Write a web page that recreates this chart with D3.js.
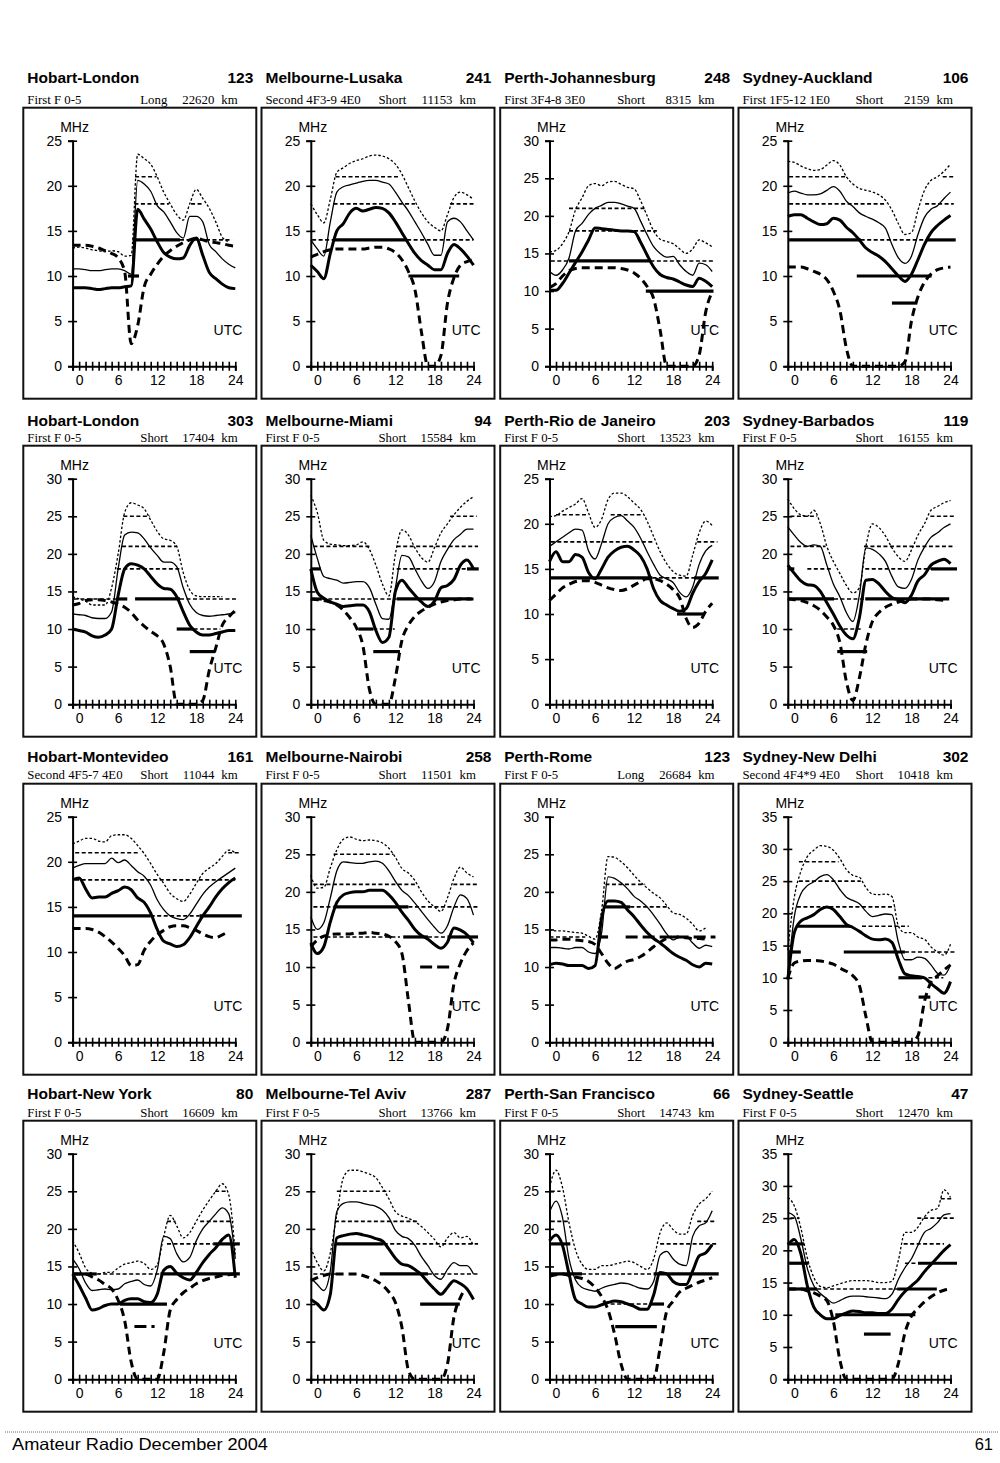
<!DOCTYPE html>
<html>
<head>
<meta charset="utf-8">
<script src="https://cdn.jsdelivr.net/npm/d3@7"></script>
<style>
  body { margin: 0; background: #fff; }
  svg { display: block; }
  .title { font: bold 15.5px "Liberation Sans", Arial, sans-serif; fill: #000; }
  .sub { font: 12.8px "Liberation Serif", "Times New Roman", serif; fill: #000; }
  .ax text, .lbl { font: 14px "Liberation Sans", Arial, sans-serif; fill: #000; }
  .ax path { stroke: #000; stroke-width: 2; }
  .ax line { stroke: #000; stroke-width: 1.6; }
  .foot { font: 16.5px "Liberation Sans", Arial, sans-serif; fill: #000; }
</style>
</head>
<body>
<svg id="page"></svg>
<script>
// ---- data ----
var hours = [-1, 0, 1, 2, 3, 4, 5, 6, 7, 8, 9, 10, 11, 12, 13, 14, 15, 16, 17, 18, 19, 20, 21, 22, 23, 24];
var hourLabels = [0, 6, 12, 18, 24];

var routes = [
  "Hobart-London", "Melbourne-Lusaka", "Perth-Johannesburg", "Sydney-Auckland",
  "Hobart-London", "Melbourne-Miami", "Perth-Rio de Janeiro", "Sydney-Barbados",
  "Hobart-Montevideo", "Melbourne-Nairobi", "Perth-Rome", "Sydney-New Delhi",
  "Hobart-New York", "Melbourne-Tel Aviv", "Perth-San Francisco", "Sydney-Seattle"
];
var routeNumbers = [123, 241, 248, 106, 303, 94, 203, 119, 161, 258, 123, 302, 80, 287, 66, 47];
var modes = [
  "First F 0-5", "Second 4F3-9 4E0", "First 3F4-8 3E0", "First 1F5-12 1E0",
  "First F 0-5", "First F 0-5", "First F 0-5", "First F 0-5",
  "Second 4F5-7 4E0", "First F 0-5", "First F 0-5", "Second 4F4*9 4E0",
  "First F 0-5", "First F 0-5", "First F 0-5", "First F 0-5"
];
var paths = ["Long", "Short", "Short", "Short", "Short", "Short", "Short", "Short",
             "Short", "Short", "Long", "Short", "Short", "Short", "Short", "Short"];
var distances = [22620, 11153, 8315, 2159, 17404, 15584, 13523, 16155,
                 11044, 11501, 26684, 10418, 16609, 13766, 14743, 12470];
var yMaxes = [25, 25, 30, 25, 30, 30, 25, 30, 25, 30, 30, 35, 30, 30, 30, 35];
var ticks25 = [0, 5, 10, 15, 20, 25];
var ticks30 = [0, 5, 10, 15, 20, 25, 30];
var ticks35 = [0, 5, 10, 15, 20, 25, 30, 35];

// dotted upper curve, MHz at each hour
var upperMHz = [
  [13.1,13.2,13.1,12.9,12.8,12.7,12.8,12.7,12.2,12.3,23.5,23,22.4,21,19.3,18,16.8,16.2,18,19.6,18.6,17.5,16,14.3,13.8,null],
  [18,16.8,15.9,18.5,21.5,22,22.5,22.8,23,23.3,23.4,23.3,23,22.4,21.3,19.8,18.3,17,16,15.4,15,16.8,18.7,19.3,19,18.5],
  [15.2,15.4,16.3,17.9,20.8,22.4,24,24.3,24,24.5,24.6,24.2,23.8,23.6,22,20,18,16.9,16.6,16.3,15.6,15,15.6,16.8,16.4,15.9],
  [22.7,22.6,22.2,21.9,21.7,21.8,22.3,22.8,22.3,21,20.2,19.7,19.5,19.3,19,18.4,17.3,15.8,14.6,14.8,17.3,19.5,20.6,21,21.6,22.4],
  [14.3,14,13.7,13.2,13.2,13.2,15.5,20,25.5,26.8,26.5,26,24.5,23,22,21.8,21,17.5,15.2,14.4,14.3,14.3,14.3,14.3,null,null],
  [27.8,25.5,21.8,21.3,21.2,21.1,21.1,21.2,21.6,20.6,18.5,16,14.4,20,23.2,22.5,20.8,19.5,18.9,20.8,22.8,24,25.2,26.2,27,27.6],
  [20.8,20.9,21.4,21.8,22.2,22.8,21.2,19.6,20.5,22.7,23.4,23.4,23,22.3,21.6,20.3,18.6,16.9,15.6,14.7,14.3,14.2,16.5,19,20.3,19.8],
  [27.3,26,25.2,25,25.8,24,21,19,17.4,15.8,14.8,15.5,21,24,23.5,22.4,20.8,19.6,19,20.5,22.5,24,25.8,26.3,26.8,27.1],
  [22,22.3,22.6,22.6,22.3,22.2,22.9,23,23,22.6,21.8,20.9,19.8,18.6,17.6,16.5,15.9,15.6,16.4,17.6,18.7,19.3,19.8,20.6,21.3,21],
  [22.2,20.5,20.6,23.2,25.6,27,27.3,27,26.8,26.9,26.8,26.5,25.8,24.6,23.1,22.5,21.5,20,18.8,18,17.4,19.2,21.8,23.3,22.5,22],
  [15,14.8,14.8,14.7,14.6,14.5,14.1,13.7,17.5,24.7,24.6,24,23.2,22.2,21.3,20.5,19.8,19.2,18.2,17.2,17,16.5,15.7,14.8,15.2,null],
  [14.3,22.5,26.5,28.8,29.8,30.5,30.4,29.8,28.5,26.8,25.9,25.6,24,23,22.9,23,22.6,18,17,17,16.3,16,14.8,14,13.5,15.2],
  [18.4,16.8,14.8,14.1,14,14.2,14.2,14.8,15.3,15.5,15.7,15.4,14.6,15.2,19,21.8,20.4,18.8,19.5,21,22.5,23.8,25,26,24.5,16.6],
  [17.5,15.5,14.4,16.8,21.9,26.8,27.8,27.8,27.6,27.3,26.8,25.5,24,22.3,21.7,21.4,21,20.3,19.5,18.6,17.6,18.8,19.5,18.8,19,17.7],
  [25.5,27.8,25.5,20.8,17.2,15.3,14.6,14.6,15.1,15.1,15.3,15.5,15.7,15.5,15,14.6,16,19.5,20.8,19.9,19.3,19.3,21.8,23.3,24,25],
  [28.2,26.9,23.5,18.8,15.8,14.4,14.2,14.5,14.8,15.1,15.3,15.3,15.3,15.2,15,15,15.2,18.5,22.8,22.8,23.6,25.2,26.2,26.5,29.4,28.2]
];

// thin solid curve
var thinMHz = [
  [10.8,10.8,10.7,10.6,10.6,10.7,10.8,10.8,10.6,10.2,20.6,20.2,19.4,17.8,17.1,16,14.8,14.2,16.6,16.6,16,13.5,12.7,11.9,11.3,10.9],
  [14,13,12.2,16,19.3,19.9,20.1,20.3,20.5,20.6,20.6,20.4,20.2,19.3,18.2,17.2,16,14.8,13.5,12.3,12.3,16,16.4,16,15,14],
  [12.6,12.1,12.8,14.4,18,19,20.2,21,21.4,21.8,21.8,21.6,21.3,21,19.3,17.5,15.9,15,14.5,14.6,13.5,12.6,12.1,13.7,13.5,12.6],
  [19.2,19.4,19.2,19,19,19.1,19.5,19.9,19.4,18.3,17.7,17,16.6,16.3,15.9,15.3,13.5,12,11.4,12.2,14.6,16.5,17.4,17.8,18.6,19.3],
  [12,11.9,11.8,11.5,11.4,11.4,12.3,18,22.5,22.9,22.8,22,20.8,19.8,18.9,18.9,18.3,15.5,13.3,12.2,11.8,11.7,11.8,11.9,12,12.2],
  [22.5,19.4,17,16.7,16.5,16.1,16.2,16.3,16.3,15.5,13.3,11.4,11.3,15.5,19.8,19.6,18,16.4,15.4,16.3,19,20.6,21.9,22.6,23.3,23.3],
  [17.5,18,18.5,19,19.4,19.3,17,16.1,17.8,20,20.7,20.9,20.3,19.6,18.4,16.9,15.5,14.3,13.9,13.5,12.4,11.9,13,15.5,17,17.6],
  [23.6,22.5,21.5,21,21.2,21,18.5,16,14.3,12.2,11,14.5,20.8,20.6,20,19,17,15.6,15.4,16.6,19.2,20.9,22.2,22.8,23.5,24],
  [19.3,19.6,19.8,19.8,19.8,19.8,20.4,19.9,20.2,19.6,18.9,18.4,17.4,15.8,14.7,14,13.7,13.6,14.2,15.3,16.4,17.2,17.8,18.3,18.8,19.3],
  [16.7,15,15.9,19.2,22.8,24,23.9,23.8,23.8,24,24.1,23.8,22.8,21.4,20.2,19.5,18.5,17.4,16.3,15.3,14.5,15.5,18,19.6,19.1,16.9],
  [12.6,12.6,12.5,12.4,12.6,12.6,12,11.8,14.5,22,21.8,21.2,20.4,19.4,18.8,18,16.9,15.7,14.4,13.6,14,14,13.2,12.5,12.9,12.7],
  [10.2,19.5,23,24.3,24.9,25.7,26,25.2,23.7,22.5,22,21.5,20.3,19.5,19.7,19.9,19.8,15.5,12.8,12.8,13.2,13,12,10.7,10.4,12],
  [16,14.7,12.8,11.8,11.9,12,11.9,12,12.7,13,13.2,12.6,12.4,14.5,19,18.7,16.7,15.6,16.2,18.4,20,21,22,22.8,22,16],
  [13.5,12.6,11.8,14.4,22.3,23.4,23.6,23.6,23.4,23.2,23,22.5,21.5,19.8,19,18.7,17.8,16.3,15.1,13.8,13.3,14.6,15.5,15.1,15.1,14],
  [22.2,23.7,21.5,16,13.2,12.2,11.9,11.7,12.1,12.4,12.6,12.8,12.7,12.4,12.1,12,13,16.5,17,16,15.3,15.1,19,20.4,20.8,22.4],
  [25.9,25.3,21.8,17.2,14.5,13.3,12.5,11.8,12.2,12.7,12.9,12.9,12.8,12.7,12.6,12.5,13.2,15.5,17.3,18.7,20.8,22.8,23.4,24.3,25.5,25.7]
];

// thick solid curve
var thickMHz = [
  [8.7,8.7,8.7,8.6,8.5,8.6,8.7,8.7,8.8,8.9,17.4,16.3,15.2,13.8,12.6,12.1,11.9,12,13.4,14.2,12.3,10.4,9.7,9.1,8.7,8.6],
  [11.2,10.5,9.7,12.5,15,15.8,17,17.5,17.2,17.4,17.6,17.5,17,16,14.8,13.6,12.5,11.7,11.2,10.7,10.7,12.5,13.5,13,12.2,11.2],
  [10.1,10.1,11,12.4,13.8,15.2,16.8,18.4,18.3,18.2,18.1,18,18,17.9,16.5,14.8,13.2,12.2,11.8,11.6,11.2,10.8,10.6,11.7,11.3,10.6],
  [16.6,16.8,16.8,16.4,16,15.7,15.8,16.4,16.2,15.4,14.8,14,13.1,12.6,12.2,11.6,10.8,10,9.4,10.2,11.8,13.5,14.8,15.6,16.2,16.7],
  [10,9.8,9.6,9.1,8.9,9.2,10,14.5,18,18.7,18.5,18,17,16,15.4,15.3,14.3,12.3,10.5,9.6,9.2,9.2,9.4,9.6,9.8,9.8],
  [18,14.9,14.1,13.6,13.3,13,13.1,13.2,13.2,12.3,9.8,8.2,8.9,15,16.5,15.5,14.5,13.6,13,13.7,15.5,15.8,16.6,18.5,19.2,18],
  [15.8,16.9,15.8,15.8,16.6,16.3,14.6,13.9,15,16.3,17,17.4,17.5,17.1,16.4,15,12.8,11.5,11,10.6,10.3,10.6,12.3,13.6,14.5,16],
  [18.5,17.4,16.4,15.9,15.8,15,13.5,12,10.4,9.2,8.7,11.5,16.5,16.6,16,15,14.2,13.9,13.5,14.5,16.4,17.2,18.5,19,19.3,18.7],
  [18,18.2,17,16,16.1,16.1,16.5,16.8,17.2,16.9,16,15.5,14.3,12.5,11.2,10.9,10.6,10.8,11.6,12.8,14,15,16.1,17,17.7,18.2],
  [13.2,11.8,12.7,16,18.6,19.6,19.9,20,20,20.2,20.2,20.2,19.6,18.6,17.3,16.2,15,14.2,13.7,13,12.5,13.3,15.2,14.9,14.3,13.2],
  [10.3,10.5,10.4,10.2,10.2,10.2,9.8,10.2,16.5,18.8,18.8,18.6,17.6,16.7,15.6,14.6,13.8,13.2,12.5,11.8,11.3,10.9,10.3,10,10.5,10.4],
  [9.7,17,18.8,19.3,19.8,20.6,21,20.6,19.5,18.3,17.8,17.2,16.5,16,15.9,16,15.5,12.8,10.6,10.3,10.2,10,9.1,8.3,7.6,9.4],
  [14,12.5,10.8,9.2,9.4,9.8,10,10,10.5,10.7,10.7,10.3,10.2,11.3,14.5,15,14.1,13.5,13.2,14.2,15.5,16.6,17.5,18.6,19.2,13.5],
  [10.6,10,9.2,11.3,18.8,19.1,19.3,19.4,19.2,19,18.7,18.4,17.3,16.1,15.3,15.1,14.6,13.9,12.9,12,11.3,12.2,13.1,12.7,12,10.6],
  [18.4,19.2,17.8,14,10.6,10,9.6,9.6,9.9,10.2,10.4,10.3,10,9.7,9.3,9.3,11.2,14.2,14,13,12.6,12.6,14.4,16.4,16.8,17.9],
  [20.9,21.7,19.5,14.5,11.2,10,9.4,9.4,9.9,10.3,10.6,10.5,10.3,10.3,10.2,10.2,10.9,12.4,13.6,14.5,15.4,16.7,17.8,18.9,20,20.9]
];

// thick dashed lower curve
var lufMHz = [
  [13.4,13.4,13.4,13.3,13.1,12.8,12.5,12,10.5,2.5,4.5,8.8,10.2,11.3,12.2,12.8,13.3,13.7,14,14.2,14,13.8,13.7,13.6,13.4,13.3],
  [12.1,12.4,12.7,12.9,13,13,13,13,13,13.1,13.2,13.2,13,12.6,11.8,10.5,8.5,3.8,0,0,1.2,7,9.8,11.2,11.6,11.8],
  [10.5,11,12,12.7,13,13.1,13.1,13.1,13.1,13.1,13.1,13,12.8,12.4,11.7,10.6,9,4.8,0,0,0,0,0,1.5,7.2,9.9],
  [11,11,11,10.8,10.5,10.2,9.6,8.3,6.2,2,0,0,0,0,0,0,0,0,0.5,5,7.7,9.3,10.2,10.7,10.9,11],
  [13.2,13.4,13.8,13.9,13.9,13.8,13.6,13.3,12.9,12.2,11.2,10.4,9.7,9.1,8,5,0,0,0,0,0.5,4.5,7.5,10.5,11.6,12.5],
  [14,13.9,13.8,13.6,13.2,12.5,11.5,10.2,7.8,2,0,0,0,3.5,8.5,10.5,11.7,12.4,12.9,13.3,13.6,13.8,13.9,14,14,14],
  [11.5,12.2,12.9,13.3,13.6,13.7,13.7,13.5,13.2,12.9,12.7,12.6,12.8,13.2,13.6,13.9,13.9,13.7,13.3,12.7,11.8,9.5,8.5,9,10.3,11.2],
  [14,13.9,13.8,13.5,13.1,12.5,11.6,10.5,8.2,3,0.5,3.5,8,11,12.2,12.9,13.3,13.6,13.8,14,14,14,14,13.9,13.8,null],
  [12.6,12.6,12.6,12.5,12.2,11.7,11.1,10.4,9.6,8.5,8.6,10.2,11.2,11.9,12.4,12.8,12.9,12.9,12.7,12.4,12,11.7,11.6,11.9,12.3,null],
  [12.7,13.6,14.1,14.3,14.4,14.4,14.4,14.5,14.5,14.6,14.5,14.4,14.1,13.4,11.8,5.5,0,0,0,0,0,1.8,7.8,10.5,12.2,13.2],
  [13.6,13.6,13.7,13.7,13.6,13.5,13.4,13,11.8,10.5,9.8,10.3,10.8,11,11.4,12,12.7,13.3,13.8,14,14,13.9,13.8,13.8,13.7,null],
  [9.9,12.3,12.6,12.7,12.7,12.6,12.4,12.1,11.5,11,10.3,8.8,4,0,0,0,0,0,0,0,1,6.3,9.3,10.3,11.2,12],
  [14,14,14,13.6,13.2,12.6,12,10.5,7.8,2.3,0,0,0,0,3.5,9.2,10.6,11.5,12.1,12.7,13.1,13.4,13.6,13.8,13.9,14],
  [13.1,13.5,13.8,14,14,14,14,14,13.8,13.5,13.1,12.5,11.6,10.2,6.9,1.2,0,0,0,0,0,2,8.3,10.9,12.2,null],
  [13.7,13.9,14,13.8,13.6,13.4,13,12.2,11,9.2,6,2,0,0,0,0,0,4.2,9,10.4,11.6,12.1,12.5,12.9,13.2,13.5],
  [14,14,14,13.7,13.4,12.9,12.2,9,3,0,0,0,0,0,0,0,0,2.5,7.2,9.8,11,12,12.8,13.4,13.8,14]
];

// band lines: [MHz, from hour, to hour, grade]
var bandSegments = [
  [[21,8.6,11.9,"weak"],[18,8.5,13.8,"weak"],[18,17.2,19.2,"weak"],[14,8.2,15.5,"strong"],[14,15.5,23.5,"weak"],[10,7.5,9.2,"strong"]],
  [[21,2.8,12.5,"weak"],[18,2.5,15,"weak"],[18,20.4,24,"weak"],[14,-0.8,2.5,"weak"],[14,2.5,13.8,"strong"],[14,13.8,24,"weak"],[10,14,21.8,"strong"]],
  [[21,2,13.8,"weak"],[18,2,15.5,"weak"],[14,-0.8,2,"weak"],[14,2,14.5,"strong"],[14,14.5,24.3,"weak"],[10,13.8,24.2,"strong"]],
  [[21,-0.8,7.8,"weak"],[21,22.8,24.5,"weak"],[18,-0.8,14.2,"weak"],[18,20.1,24.5,"weak"],[14,-0.8,10.2,"strong"],[14,10.2,20.3,"weak"],[14,20.3,24.8,"strong"],[10,9.6,21.1,"strong"],[7,15,18.9,"strong"]],
  [[25,6.8,10.9,"weak"],[21,6.6,15,"weak"],[18,5.8,15.5,"weak"],[14,-0.8,5.8,"weak"],[14,5.8,7.4,"strong"],[14,8.6,15.5,"strong"],[14,15.5,24.5,"weak"],[10,15,17.6,"strong"],[10,17.6,21.7,"weak"],[7,17,20.9,"strong"]],
  [[25,20.4,24.5,"weak"],[21,-0.6,8.1,"weak"],[21,12.2,24.7,"weak"],[18,-1,0.5,"strong"],[18,12.2,23,"weak"],[18,23,24.8,"strong"],[14,-1,0.7,"strong"],[14,0.7,12.2,"weak"],[14,12.2,23.7,"strong"],[10,6.3,8.6,"strong"],[10,8.6,11.9,"weak"],[7,8.6,12.7,"strong"]],
  [[21,0,5,"weak"],[21,8.4,13,"weak"],[18,-0.8,15,"weak"],[18,21.7,24.8,"weak"],[14,-1,14.8,"strong"],[14,14.8,21.2,"weak"],[14,21.2,25,"strong"],[10,18.6,22.9,"strong"]],
  [[25,-0.6,3.5,"weak"],[25,20.9,24.7,"weak"],[21,-0.6,4.8,"weak"],[21,10.7,24.7,"weak"],[18,-1,0,"strong"],[18,2,6,"weak"],[18,10.9,21,"weak"],[18,21,25,"strong"],[14,-1,6.1,"strong"],[14,6.1,10.9,"weak"],[14,10.9,23.8,"strong"],[10,6.6,10.2,"weak"],[7,6.6,11.2,"strong"]],
  [[21,-0.6,9.1,"weak"],[21,22.9,24.7,"weak"],[18,-0.6,24.3,"weak"],[14,-1,11,"strong"],[14,11,18.5,"weak"],[14,18.5,25,"strong"]],
  [[25,2.5,11.7,"weak"],[21,-0.6,15.3,"weak"],[21,20.9,24.7,"weak"],[18,-0.6,2.5,"weak"],[18,2.5,14,"strong"],[18,14,24.7,"weak"],[14,-0.6,12.7,"weak"],[14,13.2,17,"strong"],[14,17,20,"weak"],[14,20,24.7,"strong"],[10,15.8,20.9,"fair"]],
  [[21,7.6,13.7,"weak"],[18,7.3,11.4,"strong"],[18,11.4,17.1,"weak"],[14,-1,4.5,"weak"],[14,6.5,8,"strong"],[14,10.7,24.5,"fair"]],
  [[28,0.7,6.8,"weak"],[25,0.7,10.2,"weak"],[21,0.4,15.5,"weak"],[18,0.4,8.6,"strong"],[18,10.4,17.6,"weak"],[14,-0.8,1,"strong"],[14,7.6,17,"strong"],[14,17,24.7,"weak"],[10,16,19.6,"strong"],[10,19.6,22.9,"weak"],[7,19.1,20.9,"strong"]],
  [[25,20.9,22.7,"weak"],[21,13.5,14.8,"weak"],[21,18.6,23.7,"weak"],[18,13.5,20.6,"weak"],[18,20.6,24.7,"strong"],[14,-0.8,2.7,"strong"],[14,2.7,12.5,"weak"],[14,12.5,24.7,"strong"],[10,6.3,13.5,"strong"],[7,8.5,11.6,"fair"]],
  [[25,3,11.2,"weak"],[21,2.7,15.3,"weak"],[18,2.7,10.2,"strong"],[18,10.2,24.7,"weak"],[14,-0.6,3,"weak"],[14,9.6,17,"strong"],[14,17,24.7,"weak"],[10,15.8,21.9,"strong"]],
  [[25,-0.8,0.7,"weak"],[21,-0.8,2,"weak"],[21,21.7,24.7,"weak"],[18,-0.8,2.2,"strong"],[18,16,24.7,"weak"],[14,-0.8,4,"strong"],[14,4,15,"weak"],[14,15,25,"strong"],[10,8.4,14.5,"weak"],[10,14.5,16.6,"strong"],[7,9.1,15.5,"strong"]],
  [[28,22.5,24.5,"weak"],[25,-0.6,0.8,"weak"],[25,18.9,24.5,"weak"],[21,-0.8,1.5,"strong"],[21,16.8,23,"weak"],[18,-0.8,2.2,"strong"],[18,17,19,"weak"],[18,19,25,"strong"],[14,-0.8,3.5,"strong"],[14,3.5,15.8,"weak"],[14,15.8,21.9,"strong"],[10,6.3,18.6,"strong"],[7,10.7,14.8,"strong"]]
];

// ---- layout ----
var pageW = 1000, pageH = 1463;
var colX = [23.3, 261.5, 500.2, 738.5];
var rowY = [107.7, 445.7, 783.7, 1120.7];
var titleDy = [-24.4, -20, -21.7, -21.4];
var subDy = [-3.7, -4, -4.4, -4];
var boxW = 233, boxH = 291;
var boldPathIdx = [0, 2, 10];

var gradeStyle = {
  weak:   { w: 1.6, dash: "4,2.5" },
  strong: { w: 3.2, dash: null },
  fair:   { w: 3, dash: "12,5" }
};
var curveStyle = [
  { key: "upper", w: 1.3, dash: "2.5,2" },
  { key: "thin",  w: 1.3, dash: null },
  { key: "thick", w: 3,   dash: null },
  { key: "luf",   w: 3,   dash: "8,5" }
];

var svg = d3.select("#page").attr("width", pageW).attr("height", pageH);

var x = d3.scaleLinear().domain([-1, 24]).range([49.3, 212]);

routes.forEach(function(name, i) {
  var r = Math.floor(i / 4), c = i % 4;
  var g = svg.append("g").attr("transform", "translate(" + colX[c] + "," + rowY[r] + ")");
  var y = d3.scaleLinear().domain([0, yMaxes[i]]).range([258.5, 33]);

  g.append("rect")
   .attr("width", boxW).attr("height", boxH)
   .attr("fill", "none").attr("stroke", "#111").attr("stroke-width", 2);

  g.append("text").attr("class", "title").attr("x", 4).attr("y", titleDy[r]).text(name);
  g.append("text").attr("class", "title").attr("x", 230).attr("y", titleDy[r])
   .attr("text-anchor", "end").text(routeNumbers[i]);

  g.append("text").attr("class", "sub").attr("x", 4).attr("y", subDy[r]).text(modes[i]);
  g.append("text").attr("class", "sub").attr("x", 117).attr("y", subDy[r])
   .attr("font-weight", boldPathIdx.indexOf(i) >= 0 ? "bold" : null).text(paths[i]);
  g.append("text").attr("class", "sub").attr("x", 191).attr("y", subDy[r])
   .attr("text-anchor", "end").text(distances[i]);
  g.append("text").attr("class", "sub").attr("x", 198).attr("y", subDy[r]).text("km");

  // band lines
  g.selectAll(".band")
   .data(bandSegments[i])
   .enter()
   .append("line")
   .attr("class", "band")
   .attr("x1", function(d) { return x(d[1]) })
   .attr("x2", function(d) { return x(d[2]) })
   .attr("y1", function(d) { return y(d[0]) })
   .attr("y2", function(d) { return y(d[0]) })
   .attr("stroke", "#000")
   .attr("stroke-width", function(d) { return gradeStyle[d[3]].w })
   .attr("stroke-dasharray", function(d) { return gradeStyle[d[3]].dash });

  var line = d3.line()
    .defined(function(d) { return d[1] != null })
    .x(function(d) { return x(d[0]) })
    .y(function(d) { return y(d[1]) })
    .curve(d3.curveMonotoneX);

  var seriesVals = { upper: upperMHz[i], thin: thinMHz[i], thick: thickMHz[i], luf: lufMHz[i] };
  curveStyle.forEach(function(s) {
    var pts = hours.map(function(h, k) { return [h, seriesVals[s.key][k]] });
    g.append("path")
     .attr("d", line(pts))
     .attr("fill", "none")
     .attr("stroke", "#000")
     .attr("stroke-width", s.w)
     .attr("stroke-dasharray", s.dash)
     .attr("stroke-linejoin", "round");
  });

  // axes
  var xa = g.append("g").attr("class", "ax")
    .attr("transform", "translate(0," + y(0) + ")")
    .call(d3.axisBottom(x).tickValues(hours).tickSizeOuter(0).tickSize(4.5).tickPadding(4.5)
      .tickFormat(function(h) { return hourLabels.indexOf(h) >= 0 ? h : "" }));
  xa.selectAll(".tick line").attr("y1", -4.5).attr("y2", 4.5);

  var yt = yMaxes[i] === 25 ? ticks25 : yMaxes[i] === 30 ? ticks30 : ticks35;
  var ya = g.append("g").attr("class", "ax")
    .attr("transform", "translate(" + x(-1) + ",0)")
    .call(d3.axisLeft(y).tickValues(yt).tickSizeOuter(0).tickSize(4.5).tickPadding(6));
  ya.selectAll(".tick line").attr("x1", 4.5).attr("x2", -4.5);

  g.append("text").attr("class", "lbl").attr("x", x(-1) + 2).attr("y", 24)
   .attr("text-anchor", "middle").text("MHz");
  g.append("text").attr("class", "lbl").attr("x", 219).attr("y", 227)
   .attr("text-anchor", "end").text("UTC");
});

// footer
svg.append("line")
   .attr("x1", 5).attr("x2", 998).attr("y1", 1432).attr("y2", 1432)
   .attr("stroke", "#666").attr("stroke-width", 1).attr("stroke-dasharray", "1,1");
svg.append("text").attr("class", "foot").attr("x", 12).attr("y", 1450)
   .attr("textLength", 256).attr("lengthAdjust", "spacingAndGlyphs")
   .text("Amateur Radio December 2004");
svg.append("text").attr("class", "foot").attr("x", 993).attr("y", 1450)
   .attr("text-anchor", "end").text("61");
</script>
</body>
</html>
